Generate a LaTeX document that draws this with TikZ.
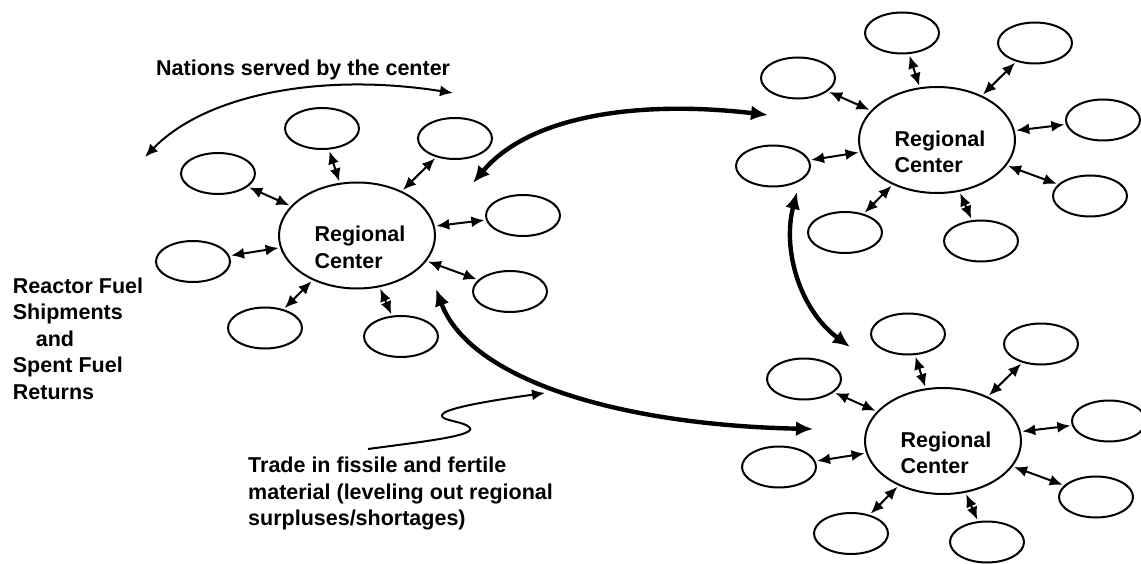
\documentclass[tikz,border=0pt]{standalone}
\usepackage{fontspec}
\setmainfont{Liberation Sans}
\usetikzlibrary{arrows.meta, shapes.geometric}

\tikzset{
  region/.style={ellipse, draw, line width=2pt, minimum width=156pt, minimum height=106pt, inner sep=0pt},
  nation/.style={ellipse, draw, line width=2pt, minimum width=74pt, minimum height=41pt, inner sep=0pt},
  note/.style={font=\fontsize{21.5}{26.5}\selectfont\bfseries, align=left, inner sep=0pt},
  tip/.style={line width=2pt, >={Latex[length=13pt,width=11pt]}},
  link/.style={tip, <->, shorten <=1.5pt, shorten >=1.5pt},
  pointer/.style={tip, ->},
  trade/.style={line width=4.4pt, <->, >={Latex[length=17pt,width=15pt]}},
}

\begin{document}
\begin{tikzpicture}[x=1pt, y=-1pt]
	\useasboundingbox (0,0) rectangle (1141,564);
	
	%regional centers and the nations round them
	\foreach \ctr/\cx/\cy in {lc/357/235.5, tc/937/140, bc/943/441}{
		\node[region] (\ctr) at (\cx,\cy) {};
		\node[note] (\ctr-text) at ({\cx+3},{\cy+12}) {Regional\\Center};
		\foreach \n/\dx/\dy in {1/-35/-107, 2/98/-97, 3/-139/-62, 4/166/-20, 5/-164/26, 6/153/56, 7/-92/92.5, 8/44/101}{
			\node[nation] (\ctr-\n) at ({\cx+\dx},{\cy+\dy}) {};
			\draw[link] (\ctr) -- (\ctr-\n);
		}
	}
	
	%texts
	\node[note, anchor=west] (served) at (156,70) {Nations served by the center};
	\node[note, anchor=west] (shipments) at (12.7,338.5) {Reactor Fuel\\Shipments\\\hspace*{23pt}and\\Spent Fuel\\Returns};
	\node[note, anchor=west] (trade) at (248,493.5) {Trade in fissile and fertile\\material (leveling out regional\\surpluses/shortages)};
	
	\coordinate (servedleft) at (145,157);
	\coordinate (servedright) at (453,93);
	\draw[tip, <->] (servedleft) .. controls (205,95) and (320,72) .. (servedright);
	
	%trade between the centers
	\coordinate (lt1) at (473,183);
	\coordinate (lt2) at (768,115);
	\coordinate (lb1) at (436,289);
	\coordinate (lb2) at (813,429);
	\coordinate (tb1) at (797,192);
	\coordinate (tb2) at (850,347);
	\draw[trade] (lt1) .. controls (530,115) and (640,100) .. (lt2);
	\draw[trade] (lb1) .. controls (470,380) and (620,425) .. (lb2);
	\draw[trade] (tb1) .. controls (782,250) and (800,310) .. (tb2);
	
	\coordinate (tradefrom) at (368,449);
	\coordinate (tradeto) at (545,393);
	\draw[pointer] (tradefrom) .. controls (420,442) and (475,436) .. (470,428)
		.. controls (465,421) and (440,421) .. (442,415)
		.. controls (444,409) and (480,402) .. (tradeto);
\end{tikzpicture}
\end{document}
